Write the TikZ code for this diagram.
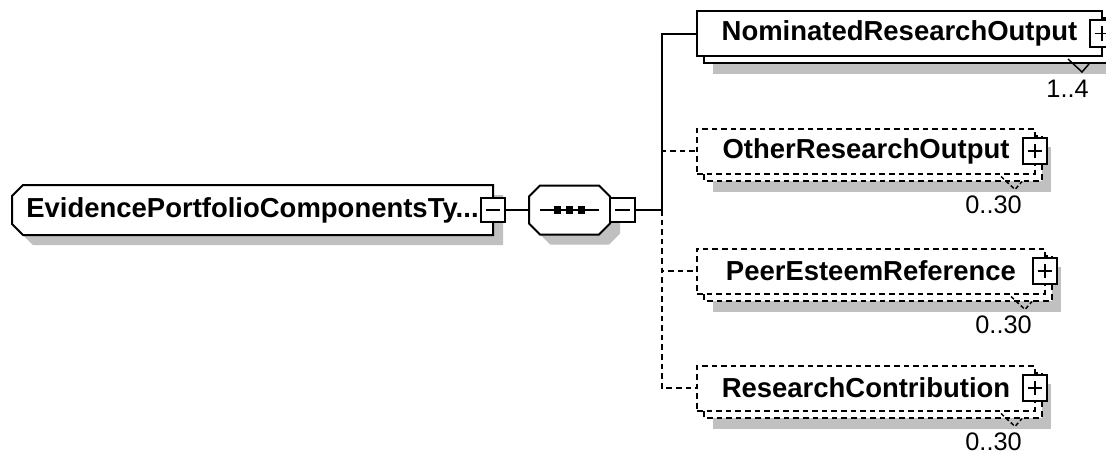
\documentclass[tikz,border=0pt]{standalone}
\usepackage{fontspec}
\setmainfont{Liberation Sans}
\usetikzlibrary{backgrounds}
\definecolor{shadowgray}{RGB}{192,192,192}
\newcommand{\elemfont}{\fontsize{20.6}{24}\selectfont\bfseries}
\newcommand{\multfont}{\fontsize{19}{22}\selectfont}
% outline with the two left corners cut, and with all four cut
\newcommand{\leftcut}[1]{([xshift=8.25pt]#1.north west) -- (#1.north east) -- (#1.south east) -- ([xshift=8.25pt]#1.south west) -- ([yshift=8.25pt]#1.south west) -- ([yshift=-8.25pt]#1.north west) -- cycle}
\newcommand{\seqcut}[1]{([xshift=8.25pt]#1.north west) -- ([xshift=-8.25pt]#1.north east) -- ([yshift=-8.25pt]#1.north east) -- ([yshift=8.25pt]#1.south east) -- ([xshift=-8.25pt]#1.south east) -- ([xshift=8.25pt]#1.south west) -- ([yshift=8.25pt]#1.south west) -- ([yshift=-8.25pt]#1.north west) -- cycle}

\tikzset{
  conn/.style={line width=1.5pt},
  optconn/.style={conn, dash pattern=on 4.2pt off 3pt},
  elem/.style={draw, fill=white, line width=1.5pt, inner sep=0pt, outer sep=0pt,
    minimum height=33.75pt, anchor=west, font=\elemfont},
  optelem/.style={elem, dash pattern=on 4.2pt off 3pt},
  pmbox/.style={draw, fill=white, line width=1.3pt, inner sep=0pt, outer sep=0pt,
    minimum width=18.5pt, minimum height=20pt},
  plusbox/.style={pmbox, path picture={
    \draw[line width=1.3pt] (path picture bounding box.center) +(-5.5pt,0) -- +(5.5pt,0)
      (path picture bounding box.center) +(0,-5.5pt) -- +(0,5.5pt);}},
  minusbox/.style={pmbox, minimum height=18.5pt, path picture={
    \draw[line width=1.3pt] (path picture bounding box.center) +(-5.5pt,0) -- +(5.5pt,0);}},
  shade/.style={fill=shadowgray},
  mult/.style={font=\multfont, anchor=east, inner sep=0pt},
}

\begin{document}
\begin{tikzpicture}[x=0.75pt, y=-0.75pt]
\useasboundingbox (0,0) rectangle (1106,454);

\node[anchor=west, inner sep=0pt, outer sep=0pt, minimum width=360.75pt,
  minimum height=37.5pt, font=\elemfont] (root) at (12,210) {EvidencePortfolioComponentsTy...};
\node[minusbox] (rootminus) at (root.east) {};
\node[anchor=west, inner sep=0pt, outer sep=0pt, minimum width=60.75pt,
  minimum height=36.75pt] (seq) at (529,210) {};
\node[minusbox, anchor=west] (seqminus) at (seq.east) {};
\coordinate (fork) at (662,210);

\node[elem, minimum width=303.75pt] (nro) at (697,33.5) {NominatedResearchOutput};
\node[optelem, minimum width=253.5pt] (oro) at (697,151) {OtherResearchOutput};
\node[optelem, minimum width=261pt] (per) at (697,271) {PeerEsteemReference};
\node[optelem, minimum width=253.5pt] (rc) at (697,388) {ResearchContribution};

\begin{scope}[on background layer]
  \fill[shade, transform canvas={xshift=7.5pt, yshift=-7.5pt}] \leftcut{root};
  \draw[fill=white, line width=1.5pt] \leftcut{root};
  \fill[shade, transform canvas={xshift=7.5pt, yshift=-7.5pt}] \seqcut{seq};
  \draw[fill=white, line width=1.5pt] \seqcut{seq};
  \fill[shade] ([shift={(16,18)}]nro.north west) rectangle ([shift={(16,18)}]nro.south east);
  \draw[fill=white, line width=1.5pt] ([shift={(7,7)}]nro.north west) rectangle ([shift={(7,7)}]nro.south east);
  \foreach \e in {oro,per,rc} {
    \fill[shade] ([shift={(16,18)}]\e.north west) rectangle ([shift={(16,18)}]\e.south east);
    \draw[fill=white, optconn] ([shift={(7,7)}]\e.north west) rectangle ([shift={(7,7)}]\e.south east);
  }
\end{scope}

% sequence compositor
\draw[conn] ([xshift=8.25pt]seq.west) -- ([xshift=-8.25pt]seq.east);
\foreach \dx in {-9pt,0pt,9pt}
  \fill ([xshift=\dx]seq.center) +(-2.8pt,-2.8pt) rectangle +(2.8pt,2.8pt);

\draw[conn] (rootminus) -- (seq);
\draw[conn] (seqminus) -- (fork);
\draw[optconn] (fork) |- (rc.west);
\draw[optconn] (fork) |- (per.west);
\draw[optconn] (fork) |- (oro.west);
\draw[conn] (fork) |- (nro.west);

\node[plusbox] (nroplus) at (nro.east) {};
\draw[line width=1.1pt] ([shift={(-34,3)}]nro.south east) -- ([shift={(-20,16)}]nro.south east)
  -- ([shift={(-13,8)}]nro.south east);
\node[mult] (nromult) at ([shift={(-13,33)}]nro.south east) {1..4};

\foreach \e in {oro,per,rc} {
  \node[plusbox] (\e plus) at (\e.east) {};
  \draw[line width=1.1pt, dash pattern=on 3pt off 2pt] ([shift={(-34,3)}]\e.south east)
    -- ([shift={(-20,16)}]\e.south east) -- ([shift={(-13,8)}]\e.south east);
  \node[mult] (\e mult) at ([shift={(-13,31)}]\e.south east) {0..30};
}
\end{tikzpicture}
\end{document}
